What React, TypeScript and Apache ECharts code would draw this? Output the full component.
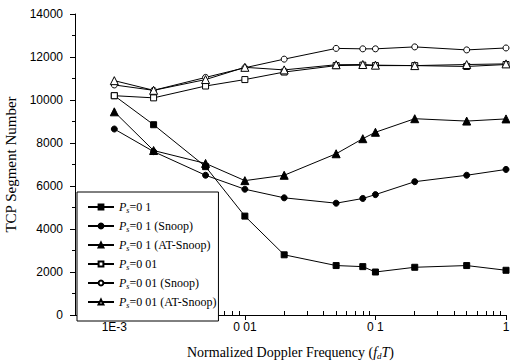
import React, { useEffect, useRef } from "react";
import * as echarts from "echarts";

const xValues = [0.001, 0.002, 0.005, 0.01, 0.02, 0.05, 0.08, 0.1, 0.2, 0.5, 1];
const ps01 = [10200, 8850, 6900, 4600, 2800, 2300, 2250, 2000, 2220, 2300, 2080];
const ps01Snoop = [8650, 7600, 6500, 5850, 5450, 5200, 5420, 5600, 6200, 6500, 6770];
const ps01AT = [9450, 7650, 7050, 6250, 6500, 7500, 8200, 8500, 9130, 9020, 9120];
const ps001 = [10200, 10100, 10650, 10950, 11300, 11600, 11620, 11600, 11600, 11560, 11650];
const ps001Snoop = [10700, 10450, 11050, 11500, 11900, 12400, 12380, 12380, 12470, 12330, 12420];
const ps001AT = [10900, 10450, 10950, 11520, 11400, 11640, 11650, 11620, 11600, 11650, 11680];

const majorTicksX = [0.001, 0.01, 0.1, 1];
const tickLabelsX = ["1E-3", "0 01", "0 1", "1"];
const minorTicksX = [
  0.0006, 0.0007, 0.0008, 0.0009,
  0.002, 0.003, 0.004, 0.005, 0.006, 0.007, 0.008, 0.009,
  0.02, 0.03, 0.04, 0.05, 0.06, 0.07, 0.08, 0.09,
  0.2, 0.3, 0.4, 0.5, 0.6, 0.7, 0.8, 0.9,
];

const seriesNames = ["0 1", "0 1 (Snoop)", "0 1 (AT-Snoop)", "0 01", "0 01 (Snoop)", "0 01 (AT-Snoop)"];
const seriesValues = [ps01, ps01Snoop, ps01AT, ps001, ps001Snoop, ps001AT];
const seriesSymbols = ["rect", "circle", "triangle", "rect", "circle", "triangle"];
const seriesFilled = [true, true, true, false, false, false];

const SERIF = "'Liberation Serif', 'Times New Roman', serif";
const SANS = "'Liberation Sans', Arial, sans-serif";

export default function App() {
  const ref = useRef<HTMLDivElement>(null);
  useEffect(() => {
    if (!ref.current) return;
    const chart = echarts.init(ref.current, null, { renderer: "svg" });
    const series = seriesNames.map((name, i) => ({
      name,
      type: "line",
      xAxisIndex: 0,
      yAxisIndex: 0,
      data: xValues.map((x, j) => [x, seriesValues[i][j]]),
      symbol: seriesSymbols[i],
      symbolSize: seriesSymbols[i] === "triangle" ? 8 : 6,
      lineStyle: { color: "#000", width: 1 },
      itemStyle: {
        color: seriesFilled[i] ? "#000" : "#fff",
        borderColor: "#000",
        borderWidth: 1,
      },
      emphasis: { disabled: true },
    }));
    chart.setOption({
      animation: false,
      backgroundColor: "#fff",
      grid: { left: 75, right: 4, top: 14, bottom: 48, containLabel: false, outerBoundsMode: "none" },
      legend: {
        orient: "vertical",
        left: 77,
        top: 192,
        padding: [9, 2, 12, 10],
        itemGap: 6,
        itemWidth: 26,
        itemHeight: 6,
        borderColor: "#000",
        borderWidth: 1,
        backgroundColor: "#fff",
        data: seriesNames,
        formatter: (name: string) => `{i|P}{sub|s}{t|=${name}}`,
        textStyle: {
          color: "#000",
          fontFamily: SERIF,
          fontSize: 12,
          lineHeight: 12,
          rich: {
            i: { fontFamily: SERIF, fontStyle: "italic", fontSize: 12, color: "#000" },
            sub: { fontFamily: SERIF, fontStyle: "italic", fontSize: 8, color: "#000", padding: [6, 0, 0, 0] },
            t: { fontFamily: SERIF, fontSize: 12, color: "#000" },
          },
        },
      },
      xAxis: [
        {
          type: "log",
          logBase: 10,
          min: 0.0005,
          max: 1,
          axisLine: { show: true, lineStyle: { color: "#000", width: 1 } },
          axisTick: { show: true, customValues: majorTicksX, length: 5, inside: false, lineStyle: { color: "#000" } },
          axisLabel: {
            customValues: majorTicksX,
            color: "#000",
            fontFamily: SANS,
            fontSize: 12,
            margin: 6,
            formatter: (v: number) => tickLabelsX[Math.round(Math.log10(v)) + 3] ?? "",
          },
          splitLine: { show: false },
          minorTick: { show: false },
          name: "{n|Normalized Doppler Frequency (}{i|f}{sub|d}{i|T}{n|)}",
          nameLocation: "middle",
          nameGap: 30,
          nameTextStyle: {
            color: "#000",
            fontFamily: SERIF,
            fontSize: 14,
            rich: {
              n: { fontFamily: SERIF, fontSize: 14, color: "#000" },
              i: { fontFamily: SERIF, fontStyle: "italic", fontSize: 14, color: "#000" },
              sub: { fontFamily: SERIF, fontStyle: "italic", fontSize: 9, color: "#000", padding: [6, 0, 0, 0] },
            },
          },
        },
        {
          type: "log",
          logBase: 10,
          min: 0.0005,
          max: 1,
          position: "bottom",
          axisLine: { show: false },
          axisTick: { show: true, customValues: minorTicksX, length: 4, inside: true, lineStyle: { color: "#000" } },
          axisLabel: { show: false },
          splitLine: { show: false },
        },
      ],
      yAxis: [
        {
          type: "value",
          min: 0,
          max: 14000,
          interval: 2000,
          axisLine: { show: true, lineStyle: { color: "#000", width: 1 } },
          axisTick: { show: true, length: 5, inside: false, lineStyle: { color: "#000" } },
          minorTick: { show: true, splitNumber: 2, length: 3, lineStyle: { color: "#000" } },
          axisLabel: { color: "#000", fontFamily: SANS, fontSize: 12, margin: 12, formatter: (v: number) => String(v) },
          splitLine: { show: false },
          name: "TCP Segment Number",
          nameLocation: "middle",
          nameGap: 47,
          nameTextStyle: { color: "#000", fontFamily: SERIF, fontSize: 15 },
        },
      ],
      series,
    });
    return () => chart.dispose();
  }, []);
  return (
    <div
      ref={ref}
      style={{ position: "fixed", left: 0, top: 0, width: 510, height: 363, background: "#fff" }}
    />
  );
}
